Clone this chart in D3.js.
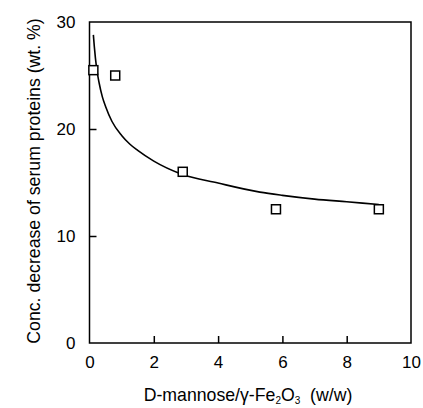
<!DOCTYPE html>
<html>
<head>
<meta charset="utf-8">
<script src="https://cdn.jsdelivr.net/npm/d3@7"></script>
<style>
  html, body { margin: 0; padding: 0; background: #fff; }
  text { font-family: "Liberation Sans", Arial, sans-serif; fill: #000; }
</style>
</head>
<body>
<svg id="chart" width="423" height="408"></svg>
<script>
// Measured points: mass ratio vs. concentration decrease
const ratio = [0.12, 0.8, 2.9, 5.8, 9.0];
const decrease = [25.5, 25.0, 16.0, 12.5, 12.5];

// Fitted trend curve
const fitX = [0.12, 0.15, 0.22, 0.3, 0.4, 0.5, 0.7, 1.0, 1.25, 1.5, 2.0, 2.85, 4.0, 5.3, 6.0, 7.0, 8.0, 9.0];
const fitY = [28.8, 27.7, 25.7, 24.3, 23.0, 22.1, 20.7, 19.4, 18.6, 18.0, 17.0, 15.8, 14.95, 14.1, 13.8, 13.45, 13.2, 12.95];

const xTicks = [0, 2, 4, 6, 8, 10];
const yTicks = [0, 10, 20, 30];

const svg = d3.select("#chart");
const plotL = 89.5, plotR = 411, plotT = 22, plotB = 343;

const x = d3.scaleLinear().domain([0, 10]).range([plotL, plotR]);
const y = d3.scaleLinear().domain([0, 30]).range([plotB, plotT]);

// Frame
svg.append("rect")
  .attr("x", plotL).attr("y", plotT)
  .attr("width", plotR - plotL).attr("height", plotB - plotT)
  .attr("fill", "none").attr("stroke", "#000").attr("stroke-width", 1.5);

// Axes with inward ticks
const xAxis = svg.append("g").attr("transform", `translate(0,${plotB})`)
  .call(d3.axisBottom(x).tickValues(xTicks).tickSizeInner(-7).tickSizeOuter(0).tickPadding(13));
const yAxis = svg.append("g").attr("transform", `translate(${plotL},0)`)
  .call(d3.axisLeft(y).tickValues(yTicks).tickSizeInner(-7).tickSizeOuter(0).tickPadding(14));

[xAxis, yAxis].forEach(g => {
  g.select(".domain").remove();
  g.selectAll(".tick line").attr("stroke", "#000").attr("stroke-width", 1.5);
  g.selectAll(".tick text")
    .style("font-family", '"Liberation Sans", Arial, sans-serif')
    .style("font-size", "17px").attr("fill", "#000");
});
xAxis.selectAll(".tick line").filter(d => d === 0 || d === 10).remove();
yAxis.selectAll(".tick line").filter(d => d === 0 || d === 30).remove();

// Trend curve
const fit = fitX.map((v, i) => [v, fitY[i]]);
svg.append("path")
  .datum(fit)
  .attr("fill", "none").attr("stroke", "#000").attr("stroke-width", 1.6)
  .attr("d", d3.line().x(d => x(d[0])).y(d => y(d[1])).curve(d3.curveMonotoneX));

// Data markers (open squares)
const s = 9;
svg.append("g").selectAll("rect")
  .data(ratio.map((v, i) => [v, decrease[i]]))
  .join("rect")
  .attr("x", d => x(d[0]) - s / 2).attr("y", d => y(d[1]) - s / 2)
  .attr("width", s).attr("height", s)
  .attr("fill", "#fff").attr("stroke", "#000").attr("stroke-width", 1.5);

// Axis titles
const xt = svg.append("text")
  .attr("x", 248).attr("y", 401)
  .attr("text-anchor", "middle").style("font-size", "17.7px");
xt.append("tspan").text("D-mannose/γ-Fe");
xt.append("tspan").attr("baseline-shift", "-30%").style("font-size", "10px").text("2");
xt.append("tspan").text("O");
xt.append("tspan").attr("baseline-shift", "-30%").style("font-size", "10px").text("3");
xt.append("tspan").text("\u00a0\u00a0(w/w)");

svg.append("text")
  .attr("transform", `translate(40,181) rotate(-90)`)
  .attr("text-anchor", "middle").style("font-size", "17.7px")
  .text("Conc. decrease of serum proteins (wt. %)");
</script>
</body>
</html>
